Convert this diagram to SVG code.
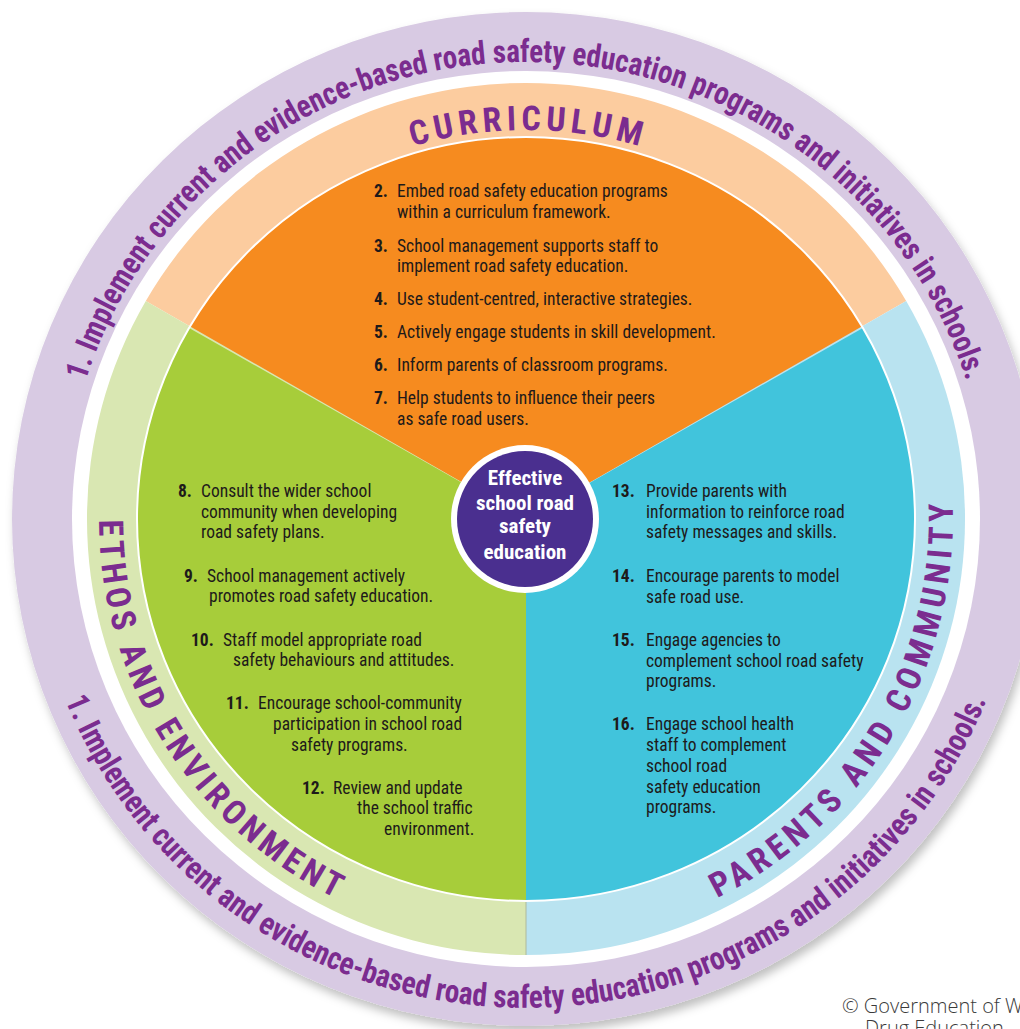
<svg xmlns="http://www.w3.org/2000/svg" width="1020" height="1029" viewBox="0 0 1020 1029">
<defs>
<style>
.rt{font-family:'Liberation Sans Narrow','Roboto Condensed','DejaVu Sans Condensed','Liberation Sans',sans-serif;font-stretch:condensed;font-weight:700;font-size:32px;fill:#7B2C8F}
.tt{font-family:'Liberation Sans Narrow','Roboto Condensed','DejaVu Sans Condensed','Liberation Sans',sans-serif;font-stretch:condensed;font-weight:700;font-size:34px;fill:#7B2C8F}
.b{font-family:'Liberation Sans Narrow','Roboto Condensed','DejaVu Sans Condensed','Liberation Sans',sans-serif;font-stretch:condensed;font-size:17.5px;fill:#1E1A1A}
.n{font-weight:700}
.c{font-family:'Liberation Sans Narrow','Roboto Condensed','DejaVu Sans Condensed','Liberation Sans',sans-serif;font-stretch:condensed;font-weight:700;font-size:21px;fill:#fff;text-anchor:middle}
.cp{font-family:'Open Sans','Noto Sans',sans-serif;font-weight:300;font-size:20px;fill:#3a3a3a}
</style>
<filter id="sh" x="-10%" y="-10%" width="125%" height="125%">
<feDropShadow dx="3" dy="6" stdDeviation="5" flood-color="#000" flood-opacity="0.25"/>
</filter>
<path id="pTop" d="M 64 519 A 462 457 0 0 1 988 519"/>
<path id="pBot" d="M 30 519 A 496 489 0 0 0 1022 519"/>
<path id="pCur" d="M 130 519 A 396 389 0 0 1 922 519"/>
<path id="pEth" d="M 99 519 A 427 424 0 0 0 526 943"/>
<path id="pPar" d="M 526 943 A 427 424 0 0 0 946.5 445.4"/>
</defs>

<g id="outer-ring">
<ellipse cx="526" cy="519" rx="514" ry="507" fill="#D8CAE3" filter="url(#sh)"/>
<ellipse cx="526" cy="519" rx="454" ry="448" fill="#fff"/>
<text class="rt"><textPath href="#pTop" startOffset="50%" text-anchor="middle" textLength="1163" lengthAdjust="spacingAndGlyphs">1.  Implement current and evidence-based road safety education programs and initiatives in schools.</textPath></text>
<text class="rt"><textPath href="#pBot" startOffset="50%" text-anchor="middle" textLength="1175" lengthAdjust="spacingAndGlyphs">1.  Implement current and evidence-based road safety education programs and initiatives in schools.</textPath></text>
</g>

<g id="curriculum">
<path d="M 526 519 L 906.2 301 A 439 436 0 0 0 145.8 301 Z" fill="#FCCC9F"/>
<path d="M 526 519 L 862.9 328 A 389 382 0 0 0 189.1 328 Z" fill="#F68B1F"/>
<text class="tt"><textPath href="#pCur" startOffset="50%" text-anchor="middle" textLength="230" lengthAdjust="spacing">CURRICULUM</textPath></text>
<g class="b">
<text x="374" y="197" class="n">2.</text><text x="397" y="197">Embed road safety education programs</text>
<text x="397" y="218">within a curriculum framework.</text>
<text x="374" y="252" class="n">3.</text><text x="397" y="252">School management supports staff to</text>
<text x="397" y="272">implement road safety education.</text>
<text x="374" y="305" class="n">4.</text><text x="397" y="305">Use student-centred, interactive strategies.</text>
<text x="374" y="338" class="n">5.</text><text x="397" y="338">Actively engage students in skill development.</text>
<text x="374" y="371" class="n">6.</text><text x="397" y="371">Inform parents of classroom programs.</text>
<text x="374" y="404" class="n">7.</text><text x="397" y="404">Help students to influence their peers</text>
<text x="397" y="425">as safe road users.</text>
</g>
</g>

<g id="ethos-environment">
<path d="M 526 519 L 145.8 301 A 439 436 0 0 0 526 955 Z" fill="#D9E7B2"/>
<path d="M 526 519 L 189.1 328 A 389 382 0 0 0 526 901 Z" fill="#A7CD3A"/>
<text class="tt"><textPath href="#pEth" startOffset="1" textLength="470" lengthAdjust="spacing">ETHOS AND ENVIRONMENT</textPath></text>
<g class="b">
<text x="178" y="497" class="n">8.</text><text x="201" y="497">Consult the wider school</text>
<text x="201" y="518">community when developing</text>
<text x="201" y="538">road safety plans.</text>
<text x="184" y="582" class="n">9.</text><text x="207" y="582">School management actively</text>
<text x="209" y="602">promotes road safety education.</text>
<text x="191" y="646" class="n">10.</text><text x="223" y="646">Staff model appropriate road</text>
<text x="233" y="666">safety behaviours and attitudes.</text>
<text x="226" y="709" class="n">11.</text><text x="258" y="709">Encourage school-community</text>
<text x="273" y="730">participation in school road</text>
<text x="291" y="751">safety programs.</text>
<text x="302" y="794" class="n">12.</text><text x="333" y="794">Review and update</text>
<text x="357" y="814">the school traffic</text>
<text x="384" y="835">environment.</text>
</g>
</g>

<g id="parents-community">
<path d="M 526 519 L 526 955 A 439 436 0 0 0 906.2 301 Z" fill="#B9E3F0"/>
<path d="M 526 519 L 526 901 A 389 382 0 0 0 862.9 328 Z" fill="#41C4DC"/>
<text class="tt"><textPath href="#pPar" startOffset="198" textLength="486" lengthAdjust="spacing">PARENTS AND COMMUNITY</textPath></text>
<g class="b">
<text x="612" y="497" class="n">13.</text><text x="646" y="497">Provide parents with</text>
<text x="646" y="518">information to reinforce road</text>
<text x="646" y="538">safety messages and skills.</text>
<text x="612" y="582" class="n">14.</text><text x="646" y="582">Encourage parents to model</text>
<text x="646" y="603">safe road use.</text>
<text x="612" y="646" class="n">15.</text><text x="646" y="646">Engage agencies to</text>
<text x="646" y="667">complement school road safety</text>
<text x="646" y="687">programs.</text>
<text x="612" y="730" class="n">16.</text><text x="646" y="730">Engage school health</text>
<text x="646" y="751">staff to complement</text>
<text x="646" y="772">school road</text>
<text x="646" y="793">safety education</text>
<text x="646" y="813">programs.</text>
</g>
</g>

<g id="connectors">
<ellipse cx="526" cy="519" rx="389" ry="382" fill="none" stroke="#fff" stroke-width="2"/>
<line x1="526" y1="902" x2="526" y2="955" stroke="#AEB99C" stroke-width="1"/>
</g>

<g id="center">
<circle cx="525" cy="519" r="74" fill="#fff"/>
<circle cx="525" cy="519" r="68" fill="#4A2F8F"/>
<text class="c" x="525" y="485">Effective</text>
<text class="c" x="525" y="510">school road</text>
<text class="c" x="525" y="533">safety</text>
<text class="c" x="525" y="559">education</text>
</g>

<g id="credit">
<text class="cp" x="842" y="1013">© Government of W</text>
<text class="cp" x="865" y="1035">Drug Education</text>
</g>
</svg>
